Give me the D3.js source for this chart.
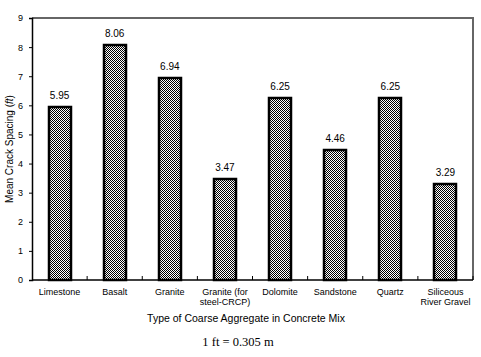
<!DOCTYPE html>
<html><head><meta charset="utf-8">
<script src="https://cdn.jsdelivr.net/npm/d3@7"></script>
<style>body{margin:0;background:#fff}svg{display:block}</style>
</head><body>
<script>
const categories = [["Limestone"],["Basalt"],["Granite"],["Granite (for","steel-CRCP)"],["Dolomite"],["Sandstone"],["Quartz"],["Siliceous","River Gravel"]];
const values = [5.95, 8.06, 6.94, 3.47, 6.25, 4.46, 6.25, 3.29];
const valueLabels = ["5.95","8.06","6.94","3.47","6.25","4.46","6.25","3.29"];
const yTicks = [0,1,2,3,4,5,6,7,8,9];

const W=481,H=357;
const m={left:32,right:473,top:18,bottom:280};
const svg=d3.select("body").append("svg").attr("width",W).attr("height",H);
const defs=svg.append("defs");
const pat=defs.append("pattern").attr("id","chk").attr("patternUnits","userSpaceOnUse").attr("width",4).attr("height",4);
pat.append("rect").attr("width",4).attr("height",4).attr("fill","#fff").attr("shape-rendering","crispEdges");
for(let r=0;r<4;r++)for(let c=0;c<4;c++)if((r+c)%2===0)
  pat.append("rect").attr("x",c).attr("y",r).attr("width",1).attr("height",1).attr("fill","#000").attr("shape-rendering","crispEdges");

const x=d3.scaleBand().domain(d3.range(values.length)).range([m.left,m.right]).paddingInner(0).paddingOuter(0);
const y=d3.scaleLinear().domain([0,9]).range([m.bottom,m.top]);
const font="Arial, 'Liberation Sans', sans-serif";

// frame top & right (gray)
svg.append("path").attr("d",`M${m.left},${m.top}H${m.right}V${m.bottom}`).attr("fill","none").attr("stroke","#666").attr("stroke-width",2);

// bars
const bw=x.bandwidth()*0.4;
svg.selectAll("rect.bar").data(values).join("rect").attr("class","bar")
 .attr("x",(d,i)=>Math.round(x(i)+x.bandwidth()/2-bw/2)).attr("y",d=>Math.round(y(d)))
 .attr("width",Math.round(bw)).attr("height",d=>Math.round(y(0))-Math.round(y(d)))
 .attr("fill","url(#chk)").attr("stroke","#000").attr("stroke-width",2.5);

// value labels
svg.selectAll("text.val").data(values).join("text").attr("class","val")
 .attr("x",(d,i)=>x(i)+x.bandwidth()/2).attr("y",d=>y(d)-8)
 .attr("text-anchor","middle").attr("font-family",font).attr("font-size",10).text((d,i)=>valueLabels[i]);

// y axis
const ya=svg.append("g").attr("transform",`translate(${m.left},0)`)
 .call(d3.axisLeft(y).tickValues(yTicks).tickFormat(d3.format("d")).tickSize(3).tickPadding(6));
ya.select(".domain").attr("stroke","#000").attr("stroke-width",1.5);
ya.selectAll("text").attr("font-family",font).attr("font-size",9).attr("fill","#000");

// x axis
const xa=svg.append("g").attr("transform",`translate(0,${m.bottom})`);
xa.append("line").attr("x1",m.left).attr("x2",m.right).attr("stroke","#000").attr("stroke-width",1.5);
xa.selectAll("line.tk").data(d3.range(1,values.length+1)).join("line").attr("class","tk")
 .attr("x1",i=>x(0)+i*x.bandwidth()).attr("x2",i=>x(0)+i*x.bandwidth()).attr("y1",0).attr("y2",-4).attr("stroke","#000");
xa.selectAll("text.cat").data(categories).join("text").attr("class","cat")
 .attr("x",(d,i)=>x(i)+x.bandwidth()/2).attr("y",15)
 .attr("text-anchor","middle").attr("font-family",font).attr("font-size",9)
 .each(function(d){const t=d3.select(this);d.forEach((s,k)=>t.append("tspan").attr("x",t.attr("x")).attr("dy",k?10:0).text(s));});

svg.append("text").attr("x",246).attr("y",322).attr("text-anchor","middle")
 .attr("font-family",font).attr("font-size",10.5).text("Type of Coarse Aggregate in Concrete Mix");
svg.append("text").attr("x",238).attr("y",346).attr("text-anchor","middle")
 .attr("font-family","'Times New Roman','Liberation Serif',serif").attr("font-size",12.5).text("1 ft = 0.305 m");

const yl=svg.append("text").attr("transform",`translate(13,${(m.top+m.bottom)/2}) rotate(-90)`)
 .attr("text-anchor","middle").attr("font-family",font).attr("font-size",10);
yl.append("tspan").text("Mean Crack Spacing (");
yl.append("tspan").attr("font-style","italic").text("ft");
yl.append("tspan").text(")");
</script>
</body></html>
